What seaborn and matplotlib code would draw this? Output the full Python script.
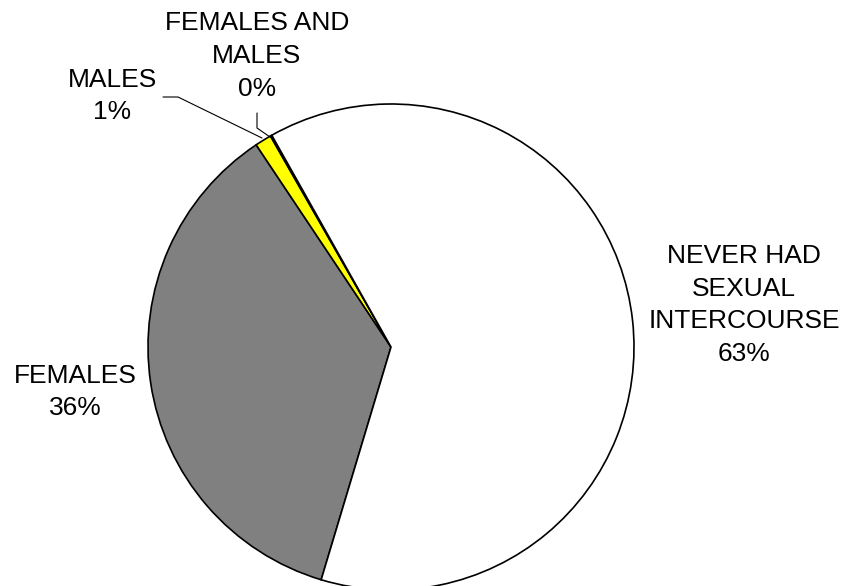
import numpy as np
import matplotlib
matplotlib.use("Agg")
import matplotlib.pyplot as plt
import seaborn as sns

# slice values (percent), in drawing order
groups = ["FEMALES", "MALES", "FEMALES AND\nMALES", "NEVER HAD\nSEXUAL\nINTERCOURSE"]
shares = [36.0, 1.1, 0.1, 62.8]
pct_labels = ["36%", "1%", "0%", "63%"]
colors = ["#808080", "#FFFF00", "#FFFFFF", "#FFFFFF"]

sns.set_style("white")
plt.rcParams['font.family'] = ['Liberation Sans', 'DejaVu Sans']

W, H = 848, 586
cx, cy, R = 391, 347, 243


def px(x, y):
    # pixel position -> data units of the pie (radius 1)
    return (x - cx) / R, (cy - y) / R


fig = plt.figure(figsize=(W / 100, H / 100), dpi=100)
ax = fig.add_axes([0, 0, 1, 1])
ax.pie(shares, colors=colors, startangle=253.3, counterclock=False,
       wedgeprops=dict(edgecolor="black", linewidth=1.2))
ax.set_xlim(-cx / R, (W - cx) / R)
ax.set_ylim((cy - H) / R, cy / R)
ax.set_aspect("equal")
ax.axis("off")

fs = 19
lab = dict(ha="center", va="center", fontsize=fs, color="black", linespacing=1.45)

ax.text(*px(744, 305), groups[3] + "\n" + pct_labels[3], **lab)
ax.text(*px(75, 392), groups[0] + "\n" + pct_labels[0], **lab)
ax.text(*px(112, 96), groups[1] + "\n" + pct_labels[1], **lab)
ax.text(*px(257, 56), groups[2] + "\n" + pct_labels[2], **lab)

# leader lines for the small slices
m = np.array([px(163, 97), px(178, 97), px(262, 138)])
ax.plot(m[:, 0], m[:, 1], color="black", lw=0.8)
f = np.array([px(257, 113), px(257, 128), px(270, 137)])
ax.plot(f[:, 0], f[:, 1], color="black", lw=0.8)

fig.savefig("out.png", dpi=100, facecolor="white")
